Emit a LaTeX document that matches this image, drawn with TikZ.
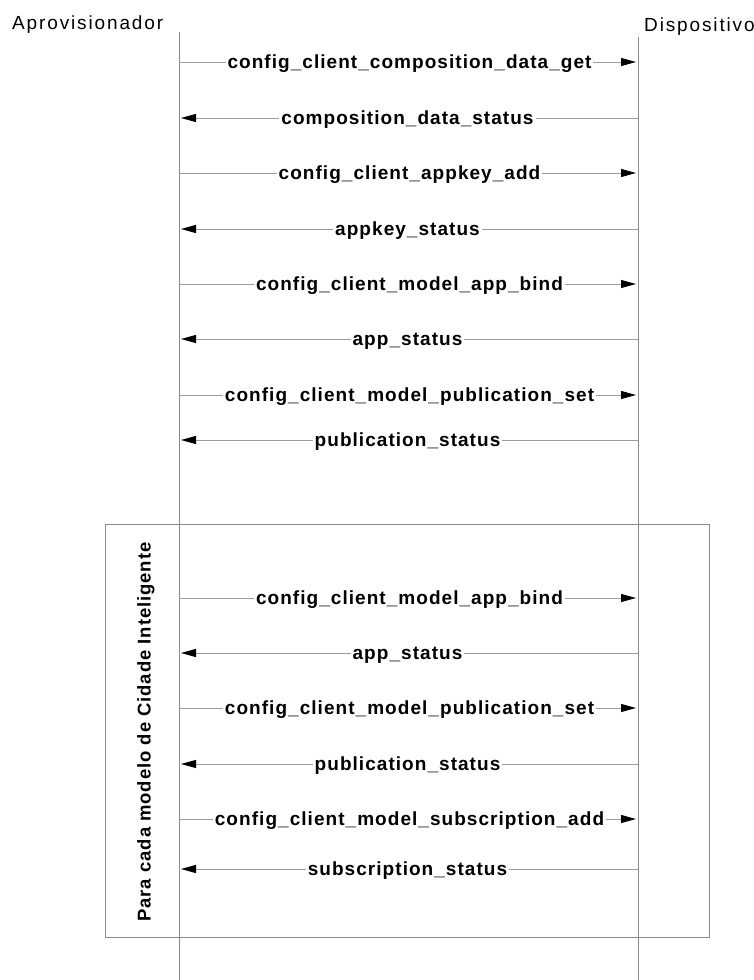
\documentclass[tikz,border=0pt]{standalone}
\usepackage{fontspec}
\setmainfont{Liberation Sans}
\newfontfamily\msgfont[LetterSpace=5.5]{Liberation Sans}
\newfontfamily\sidefont[LetterSpace=5]{Liberation Sans}
\newfontfamily\headfont[LetterSpace=9.8]{Liberation Sans}
\usetikzlibrary{arrows.meta}
\definecolor{lifegray}{HTML}{8A8A8A}
\definecolor{msggray}{HTML}{9C9C9C}
\begin{document}
\begin{tikzpicture}[x=1pt,y=-1pt,
  lifeline/.style={draw=lifegray,line width=0.9pt},
  msgline/.style={draw=msggray,line width=1pt,shorten >=2pt,
    -{Triangle[length=15pt,width=8pt,color=black]}},
  msglabel/.style={fill=white,inner sep=2pt,anchor=base,yshift=-6.6pt,
    font=\msgfont\bfseries\fontsize{19}{22}\selectfont},
  header/.style={inner sep=0pt,font=\headfont\fontsize{19}{22}\selectfont},
  framebox/.style={draw=lifegray,line width=0.9pt,inner sep=0pt},
  framelabel/.style={rotate=90,inner sep=0pt,
    font=\sidefont\bfseries\fontsize{18.5}{22}\selectfont}]
\useasboundingbox (0,0) rectangle (754,980);

% participants
\node[header,anchor=base west] (prov) at (12,29) {Aprovisionador};
\node[header,anchor=base west] (dev) at (644,31) {Dispositivo};

% lifelines
\coordinate (provtop) at (179,32);
\coordinate (provbot) at (179,980);
\coordinate (devtop) at (638,37);
\coordinate (devbot) at (638,980);
\draw[lifeline] (provtop) -- (provbot);
\draw[lifeline] (devtop) -- (devbot);

% loop frame
\node[framebox,minimum width=604pt,minimum height=413pt] (loop) at (407,730.5) {};
\node[framelabel] (looplabel) at (146,732) {Para cada modelo de Cidade Inteligente};

% requests: Aprovisionador -> Dispositivo
\foreach \i/\y/\txt in {
  1/62/config\_client\_composition\_data\_get,
  3/173/config\_client\_appkey\_add,
  5/284/config\_client\_model\_app\_bind,
  7/395/config\_client\_model\_publication\_set,
  9/598/config\_client\_model\_app\_bind,
  11/708/config\_client\_model\_publication\_set,
  13/819/config\_client\_model\_subscription\_add}{
  \coordinate (p\i) at (179,\y);
  \coordinate (d\i) at (638,\y);
  \draw[msgline] (p\i) -- node[msglabel,xshift=1pt] (m\i) {\txt} (d\i);
}

% replies: Dispositivo -> Aprovisionador
\foreach \i/\y/\txt in {
  2/118/composition\_data\_status,
  4/229/appkey\_status,
  6/339/app\_status,
  8/440/publication\_status,
  10/653/app\_status,
  12/764/publication\_status,
  14/869/subscription\_status}{
  \coordinate (p\i) at (179,\y);
  \coordinate (d\i) at (638,\y);
  \draw[msgline] (d\i) -- node[msglabel,xshift=-1pt] (m\i) {\txt} (p\i);
}
\end{tikzpicture}
\end{document}
